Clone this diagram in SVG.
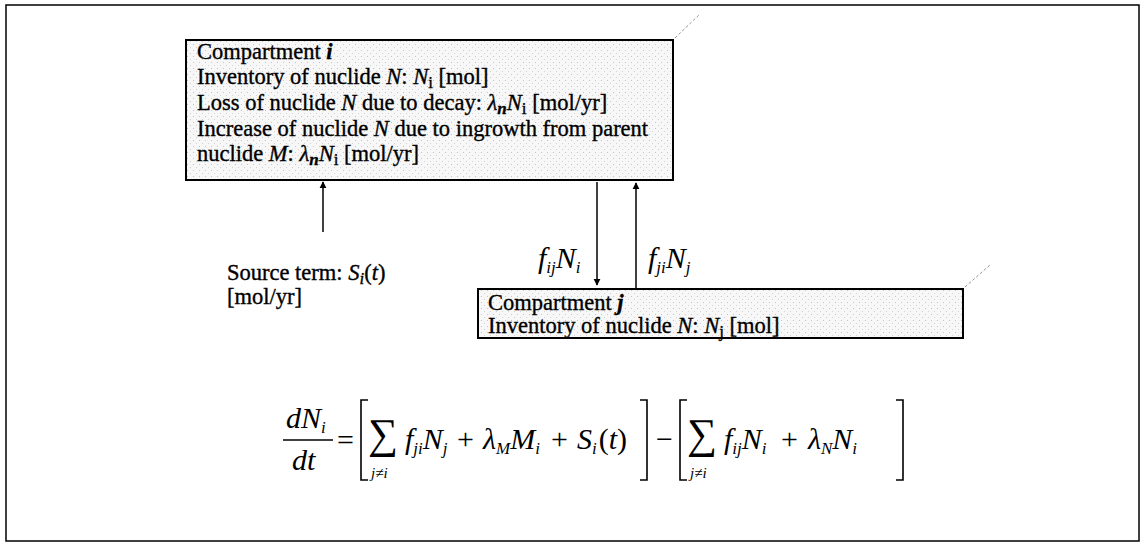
<svg xmlns="http://www.w3.org/2000/svg" width="1143" height="556" viewBox="0 0 1143 556">
<defs>
<marker id="ah" viewBox="0 0 10 10" refX="9" refY="5" markerWidth="7" markerHeight="8" markerUnits="userSpaceOnUse" orient="auto"><path d="M0,0 L10,5 L0,10 z" fill="#000"/></marker>
<pattern id="dots" width="6" height="6" patternUnits="userSpaceOnUse"><rect width="6" height="6" fill="#f7f7f7"/><rect x="1" y="2" width="1" height="1" fill="#c4c4c4"/><rect x="4" y="5" width="1" height="1" fill="#d2d2d2"/></pattern>
</defs>
<style>
.t{font-family:"Liberation Serif","Times New Roman",serif;font-size:22.5px;fill:#000;stroke:#000;stroke-width:0.35}
.it{font-style:italic}
.bi{font-style:italic;font-weight:bold}
.box{fill:url(#dots);stroke:#000;stroke-width:2}
.ln{stroke:#000;stroke-width:1.5;fill:none}
.eq{font-family:"Liberation Serif","Times New Roman",serif;font-size:30px;font-style:italic;fill:#000}
.up{font-style:normal}
.sig{font-style:normal;font-size:42px}
.sm{font-size:17px}
.xs{font-size:15px}
.br{fill:none;stroke:#000;stroke-width:1.6}
.art{stroke:#999;stroke-width:1;stroke-dasharray:3 2;fill:none}
</style>
<rect x="0" y="0" width="1143" height="556" fill="#fff"/>
<rect x="6" y="5" width="1133" height="536" fill="none" stroke="#000" stroke-width="1.5"/>

<g id="compartment-i">
<rect class="box" x="186" y="40" width="487" height="140"/>
<text class="t" x="197" y="59">Compartment <tspan class="bi">i</tspan></text>
<text class="t" x="197" y="84">Inventory of nuclide <tspan class="it">N</tspan>: <tspan class="it">N</tspan><tspan class="sm" dy="4">i</tspan><tspan dy="-4"> [mol]</tspan></text>
<text class="t" x="197" y="110">Loss of nuclide <tspan class="it">N</tspan> due to decay: <tspan class="it">λ</tspan><tspan class="bi sm" dy="4">n</tspan><tspan class="it" dy="-4">N</tspan><tspan class="sm" dy="4">i</tspan><tspan dy="-4"> [mol/yr]</tspan></text>
<text class="t" x="197" y="136">Increase of nuclide <tspan class="it">N</tspan> due to ingrowth from parent</text>
<text class="t" x="197" y="161">nuclide <tspan class="it">M</tspan>: <tspan class="it">λ</tspan><tspan class="bi sm" dy="4">n</tspan><tspan class="it" dy="-4">N</tspan><tspan class="sm" dy="4">i</tspan><tspan dy="-4"> [mol/yr]</tspan></text>
<path class="art" d="M675,38 L700,14"/>
</g>

<g id="compartment-j">
<rect class="box" x="478" y="289" width="485" height="49"/>
<text class="t" x="488" y="310">Compartment <tspan class="bi">j</tspan></text>
<text class="t" x="488" y="333">Inventory of nuclide <tspan class="it">N</tspan>: <tspan class="it">N</tspan><tspan class="sm" dy="4">j</tspan><tspan dy="-4"> [mol]</tspan></text>
<path class="art" d="M965,287 L990,265"/>
</g>

<g id="source">
<text class="t" x="227" y="280">Source term: <tspan class="it">S</tspan><tspan class="sm it" dy="4">i</tspan><tspan dy="-4">(</tspan><tspan class="it">t</tspan>)</text>
<text class="t" x="227" y="304">[mol/yr]</text>
</g>

<g id="connectors">
<line class="ln" x1="323" y1="232" x2="323" y2="182" marker-end="url(#ah)"/>
<line class="ln" x1="597" y1="182" x2="597" y2="285" marker-end="url(#ah)"/>
<line class="ln" x1="636" y1="288" x2="636" y2="183" marker-end="url(#ah)"/>
<text class="eq" x="538" y="268">f<tspan class="sm" dy="5">ij</tspan><tspan dy="-5">N</tspan><tspan class="sm" dy="5">i</tspan></text>
<text class="eq" x="648" y="268">f<tspan class="sm" dy="5">ji</tspan><tspan dy="-5">N</tspan><tspan class="sm" dy="5">j</tspan></text>
</g>

<g id="equation">
<text class="eq" x="286" y="428">dN<tspan class="sm" dy="5">i</tspan></text>
<line x1="283" y1="440" x2="333" y2="440" stroke="#000" stroke-width="1.5"/>
<text class="eq" x="292" y="470">dt</text>
<text class="eq up" x="337" y="450">=</text>
<path class="br" d="M368,400 L361,400 L361,480 L368,480"/>
<text class="eq sig" x="368" y="448">∑</text>
<text class="eq xs" x="371" y="478">j≠i</text>
<text class="eq" x="405" y="449">f<tspan class="sm" dy="5">ji</tspan><tspan dy="-5">N</tspan><tspan class="sm" dy="5">j</tspan></text>
<text class="eq up" x="457" y="449">+</text>
<text class="eq" x="483" y="449">λ<tspan class="sm" dy="5">M</tspan><tspan dy="-5">M</tspan><tspan class="sm" dy="5">i</tspan></text>
<text class="eq up" x="551" y="449">+</text>
<text class="eq" x="577" y="449">S<tspan class="sm" dy="5">i</tspan><tspan class="up" dy="-5" dx="2">(</tspan>t<tspan class="up">)</tspan></text>
<path class="br" d="M640,400 L647,400 L647,480 L640,480"/>
<text class="eq up" x="656" y="449">−</text>
<path class="br" d="M687,400 L680,400 L680,480 L687,480"/>
<text class="eq sig" x="687" y="448">∑</text>
<text class="eq xs" x="690" y="478">j≠i</text>
<text class="eq" x="724" y="449">f<tspan class="sm" dy="5">ij</tspan><tspan dy="-5">N</tspan><tspan class="sm" dy="5">i</tspan></text>
<text class="eq up" x="781" y="449">+</text>
<text class="eq" x="808" y="449">λ<tspan class="sm" dy="5">N</tspan><tspan dy="-5">N</tspan><tspan class="sm" dy="5">i</tspan></text>
<path class="br" d="M896,400 L903,400 L903,480 L896,480"/>
</g>
</svg>
